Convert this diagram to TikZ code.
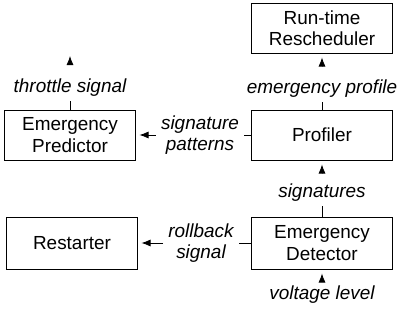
\documentclass[tikz,border=0pt]{standalone}
\usepackage{fontspec}
\setmainfont{Liberation Sans}
\usetikzlibrary{arrows.meta}
\tikzstyle{block}=[draw=black,line width=1bp,align=center,inner sep=0pt,font=\fontsize{19}{21.5}\selectfont]
\tikzstyle{lbl}=[align=center,inner sep=5bp,font=\fontsize{19}{21.5}\selectfont\itshape]
\tikzstyle{wire}=[draw,line width=0.8bp]
\tikzstyle{sig}=[wire,-{Latex[length=9bp,width=7bp]},shorten >=4bp]

\begin{document}
\begin{tikzpicture}[x=1bp,y=-1bp]
  \useasboundingbox (0,0) rectangle (397,320);

  % the blocks
  \node[block,minimum width=140bp,minimum height=50bp] (resched) at (322,28) {Run-time\\Rescheduler};
  \node[block,minimum width=140bp,minimum height=50bp] (prof) at (322,135) {Profiler};
  \node[block,minimum width=140bp,minimum height=52bp] (det) at (322,243) {Emergency\\Detector};
  \node[block,minimum width=130bp,minimum height=50bp] (pred) at (70,135) {Emergency\\Predictor};
  \node[block,minimum width=130bp,minimum height=52bp] (rest) at (72,243) {Restarter};

  % signal labels
  \node[lbl,anchor=base] (ep) at (322,93) {emergency profile};
  \node[lbl,anchor=base] (sg) at (322,197) {signatures};
  \node[lbl,anchor=base] (vl) at (322,299) {voltage level};
  \node[lbl,anchor=base] (ts) at (70,92) {throttle signal};
  \node[lbl] (sp) at (200,135) {signature\\patterns};
  \node[lbl] (rb) at (201,243) {rollback\\signal};
  \coordinate (tsend) at (70,52);

  %signal flow
  \draw[wire] (det) -- (sg);
  \draw[sig,shorten <=5bp] (sg) -- (prof);
  \draw[wire] (prof) -- (ep);
  \draw[sig,shorten <=8bp] (ep) -- (resched);
  \draw[wire] (prof) -- (sp);
  \draw[sig] (sp) -- (pred);
  \draw[wire] (pred) -- (ts);
  \draw[sig,shorten <=10bp] (ts) -- (tsend);
  \draw[wire] (det) -- (rb);
  \draw[sig] (rb) -- (rest);
  \draw[sig,shorten <=-2bp] (vl) -- (det);

\end{tikzpicture}
\end{document}
